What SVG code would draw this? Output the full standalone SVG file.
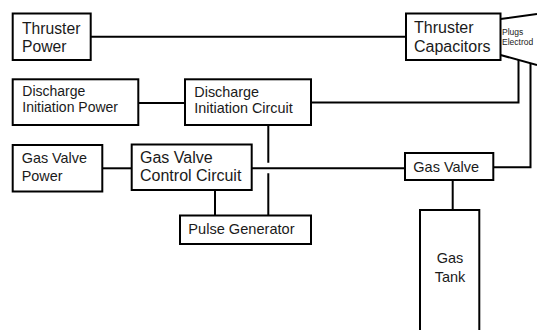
<svg xmlns="http://www.w3.org/2000/svg" width="537" height="330" viewBox="0 0 537 330">
<style>
.box{fill:#fff;stroke:#000;stroke-width:2}
.ln{fill:none;stroke:#000;stroke-width:2}
text{font-family:"Liberation Sans",Arial,sans-serif;fill:#1a1a1a}
</style>
<rect width="537" height="330" fill="#fff"/>
<g id="connectors">
<path class="ln" d="M90.7,36.7H406"/>
<path class="ln" d="M138.3,103H185"/>
<path class="ln" d="M311,102.5H518.5V60"/>
<path class="ln" d="M102.3,168.3H131.7"/>
<path class="ln" d="M251.7,168.3H405"/>
<path class="ln" d="M493.3,167.3H530.5V63"/>
<path class="ln" d="M452.7,180V210"/>
<path class="ln" d="M268.3,124.3V162.7M268.3,173.3V215.5"/>
<path class="ln" d="M215,190V215.5"/>
</g>
<g id="thruster-power">
<rect class="box" x="12.7" y="13.5" width="78" height="46.5"/>
<text x="22" y="34" font-size="15.7">Thruster</text>
<text x="22" y="52.3" font-size="15.7">Power</text>
</g>
<g id="thruster-capacitors">
<rect class="box" x="406" y="13.5" width="94.5" height="46.5"/>
<text x="414" y="32.5" font-size="16">Thruster</text>
<text x="414" y="51.5" font-size="16">Capacitors</text>
</g>
<g id="plugs-electrodes">
<path class="ln" d="M500.5,19L537,14M500.5,55L537,65"/>
<text x="502" y="34.5" font-size="8.5">Plugs</text>
<text x="502" y="45" font-size="8.5">Electrod</text>
</g>
<g id="discharge-initiation-power">
<rect class="box" x="12.7" y="79.3" width="125.6" height="45.7"/>
<text x="22.3" y="95.7" font-size="14">Discharge</text>
<text x="22.3" y="112.3" font-size="14">Initiation Power</text>
</g>
<g id="discharge-initiation-circuit">
<rect class="box" x="185" y="79.3" width="126" height="45.7"/>
<text x="194.3" y="96.7" font-size="14.4">Discharge</text>
<text x="194.3" y="113.3" font-size="14.4">Initiation Circuit</text>
</g>
<g id="gas-valve-power">
<rect class="box" x="12.7" y="145" width="89.6" height="46.5"/>
<text x="21.7" y="163.3" font-size="14.4">Gas Valve</text>
<text x="21.7" y="180.7" font-size="14.4">Power</text>
</g>
<g id="gas-valve-control-circuit">
<rect class="box" x="131.7" y="144.5" width="120" height="45.5"/>
<text x="140" y="162.7" font-size="16">Gas Valve</text>
<text x="140" y="181" font-size="16">Control Circuit</text>
</g>
<g id="pulse-generator">
<rect class="box" x="180" y="215.5" width="131" height="28.5"/>
<text x="188.3" y="234.3" font-size="14.6">Pulse Generator</text>
</g>
<g id="gas-valve">
<rect class="box" x="405" y="153" width="88.3" height="27"/>
<text x="413.3" y="172.3" font-size="14.5">Gas Valve</text>
</g>
<g id="gas-tank">
<rect class="box" x="420" y="210" width="59.3" height="130"/>
<text x="450" y="263.3" font-size="14.5" text-anchor="middle">Gas</text>
<text x="450" y="281.7" font-size="14.5" text-anchor="middle">Tank</text>
</g>
</svg>
